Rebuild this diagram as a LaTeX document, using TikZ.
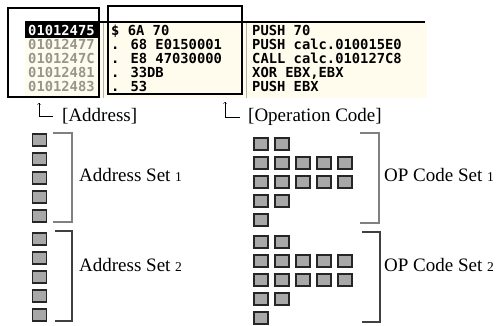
\documentclass[tikz,border=0pt]{standalone}
\usepackage{fontspec}
\setmainfont{Liberation Serif}
\newfontfamily\dbgfont{DejaVu Sans Mono}
\usepackage{tikz}
\usetikzlibrary{positioning,arrows}
\definecolor{panelbg}{RGB}{255,252,238}
\definecolor{addrgray}{RGB}{150,150,138}
\definecolor{cellfill}{RGB}{168,168,168}
% small figures, as in the set names
\newcommand{\setno}[1]{{\fontsize{13.5pt}{14pt}\selectfont #1}}
\tikzset{
    >=to,
    cell/.style={
        rectangle,
        draw=black!85,
        fill=cellfill,
        line width=1.6pt,
        minimum width=14pt,
        minimum height=12pt,
        inner sep=0pt
    },
    colbox/.style={rectangle, draw=black, line width=1.4pt, inner sep=0pt},
    asm/.style={font=\dbgfont\bfseries\fontsize{13.8pt}{14pt}\selectfont,
        anchor=base west, inner sep=0pt},
    tag/.style={font=\fontsize{19pt}{21pt}\selectfont,
        anchor=base west, inner sep=0pt},
    tagarrow/.style={draw, thin, ->, shorten <=9pt},
    setbrace/.style={draw=black!50, line width=1.1pt},
}

\begin{document}
\begin{tikzpicture}[x=1pt, y=-1pt]
        \useasboundingbox (0,0) rectangle (499,326);

        % Debugger listing: address, hex dump, disassembly
        \fill[panelbg] (25,22) rectangle (427,98);
        \draw[gray!60] (103,22) -- (103,98);
        \draw[gray!60] (246,22) -- (246,98);
        \fill[black] (25,23) rectangle (99,38);
        \draw[line width=2pt] (25,22) -- (425,22);

        \foreach \col/\addr/\hex/\ins [count=\i from 0] in {
                white/01012475/{\$ 6A 70}/{PUSH 70},
                addrgray/01012477/{. 68 E0150001}/{PUSH calc.010015E0},
                addrgray/0101247C/{. E8 47030000}/{CALL calc.010127C8},
                addrgray/01012481/{. 33DB}/{XOR EBX,EBX},
                addrgray/01012483/{. 53}/{PUSH EBX}} {
            \node[asm, text=\col] (addr\i) at (28,{36+14*\i}) {\addr};
            \node[asm] (hex\i) at (111,{36+14*\i}) {\hex};
            \node[asm] (ins\i) at (252,{36+14*\i}) {\ins};
        }

        % Boxes round the two columns
        \node[colbox, minimum width=91pt, minimum height=89pt] (addrbox) at (53.5,52.5) {};
        \node[colbox, minimum width=134pt, minimum height=88pt] (hexbox) at (175,50) {};

        % Tags under the columns
        \node[tag] (addrtag) at (62,122) {[Address]};
        \node[tag] (optag) at (248,122) {[Operation Code]};
        \coordinate (addrtip) at (39,103);
        \coordinate (optip) at (225,102);
        \draw[tagarrow] (addrtag.west) -| (addrtip);
        \draw[tagarrow, shorten <=8pt] (optag.west) -| (optip);

        % Address sets
        \foreach \i in {0,...,4} {
            \node[cell] (a1\i) at (39.5,{140+19*\i}) {};
            \node[cell] (a2\i) at (39.5,{239+19*\i}) {};
        }

        % OP code sets
        \foreach \n [count=\r from 0] in {2,5,5,2,1}
            \foreach \c in {1,...,\n} {
                \node[cell] (o1\r\c) at ({240+21*\c},{144+19*\r}) {};
                \node[cell] (o2\r\c) at ({240+21*\c},{242+19*\r}) {};
            }

        \draw[setbrace] (53,133) -| (72,222) -- (53,222);
        \draw[setbrace, draw=black!75] (55,231) -| (72,321) -- (55,321);
        \draw[setbrace] (360,133) -| (379,223) -- (360,223);
        \draw[setbrace, draw=black!75] (362,232) -| (380,322) -- (362,322);

        \node[tag] (aset1) at (79,181.5) {Address Set \setno{1}};
        \node[tag] (aset2) at (79,271.5) {Address Set \setno{2}};
        \node[tag] (oset1) at (384,181.5) {OP Code Set \setno{1}};
        \node[tag] (oset2) at (384,271.5) {OP Code Set \setno{2}};

\end{tikzpicture}
\end{document}
